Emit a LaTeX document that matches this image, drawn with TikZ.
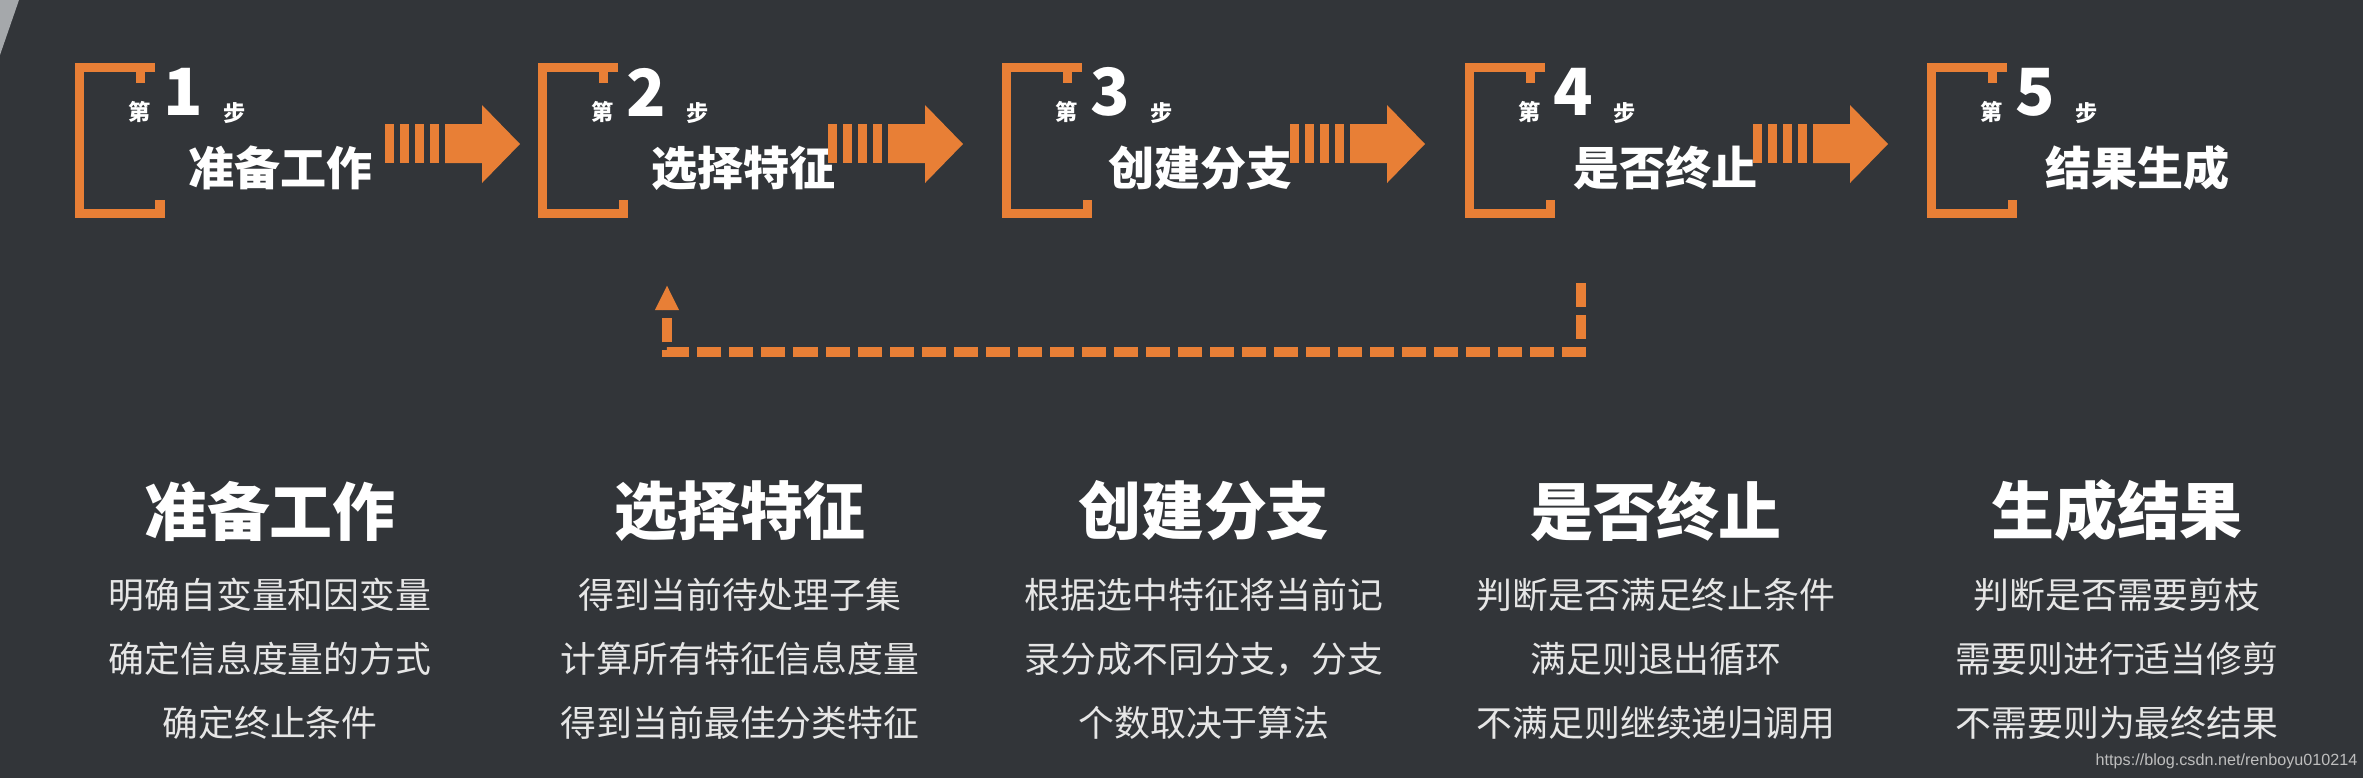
\documentclass[tikz,border=0pt]{standalone}
\usepackage{fontspec}
\setmainfont{Noto Sans CJK SC}
\newfontfamily\urlfont{Liberation Sans}
\usetikzlibrary{arrows.meta}
\definecolor{bgdark}{RGB}{50,53,57}
\definecolor{steporange}{RGB}{232,127,54}
\definecolor{cornergray}{RGB}{165,168,171}
\definecolor{bodywhite}{RGB}{230,230,230}
\definecolor{markgray}{RGB}{190,190,190}

\begin{document}
\begin{tikzpicture}[x=0.01cm, y=-0.01cm,
    bracket/.style ={draw=steporange, line width=0.09cm},
    stepword/.style ={text=white, inner sep=0pt, font=\bfseries\fontsize{6.3}{7}\selectfont},
    stepnum/.style ={text=white, inner sep=0pt, font=\bfseries\fontsize{18.5}{20}\selectfont},
    steptitle/.style ={text=white, inner sep=0pt, anchor=west, font=\bfseries\fontsize{13.1}{15}\selectfont},
    coltitle/.style ={text=white, inner sep=0pt, font=\bfseries\fontsize{17.9}{20}\selectfont},
    colbody/.style ={text=bodywhite, inner sep=0pt, align=center, font=\fontsize{10.2}{18.2}\selectfont},
    loopback/.style ={draw=steporange, line width=0.1cm, dash pattern=on 0.24cm off 0.08cm,
      -{Triangle[width=0.22cm, length=0.25cm]}}]
   \fill[bgdark] (0,0) rectangle (2363,778);
   \fill[cornergray] (0,0) -- (19,0) -- (0,55) -- cycle;
   \foreach \lx/\nm/\ttl/\tx in {75/1/准备工作/188, 538/2/选择特征/651, 1002/3/创建分支/1108,
       1465/4/是否终止/1573, 1927/5/结果生成/2045} {
     \begin{scope}[shift={(\lx,0)}]
       \draw[bracket] (65.5,83) -- (65.5,67.5);
       \draw[bracket] (80,67.5) -- (4.5,67.5) -- (4.5,213) -- (85,213) -- (85,200);
       \node[stepword] (di\nm) at (65,112) {第};
       \node[stepnum] (num\nm) at (108,92) {\nm};
       \node[stepword] (bu\nm) at (160,113) {步};
     \end{scope}
     \node[steptitle] (title\nm) at (\tx,168) {\ttl};
   }
   \foreach \sx in {385, 828, 1290, 1753} {
     \begin{scope}[shift={(\sx,0)}]
       \foreach \bx in {0, 15, 30, 45}
         \fill[steporange] (\bx,124) rectangle ++(9,39);
       \fill[steporange] (60,124) -- (97,124) -- (97,105) -- (135,144) -- (97,183) -- (97,163) -- (60,163) -- cycle;
     \end{scope}
   }
   \coordinate (from4) at (1581,283);
   \coordinate (to2) at (667,285);
   \draw[loopback] (from4) -- ++(0,69) -| (to2);
   \foreach \cx/\nm/\ttl/\bx in {270/1/准备工作/{明确自变量和因变量\\确定信息度量的方式\\确定终止条件},
       740/2/选择特征/{得到当前待处理子集\\计算所有特征信息度量\\得到当前最佳分类特征},
       1204/3/创建分支/{根据选中特征将当前记\\录分成不同分支，分支\\个数取决于算法},
       1656/4/是否终止/{判断是否满足终止条件\\满足则退出循环\\不满足则继续递归调用},
       2117/5/生成结果/{判断是否需要剪枝\\需要则进行适当修剪\\不需要则为最终结果}} {
     \node[coltitle] (head\nm) at (\cx,511) {\ttl};
     \node[colbody] (desc\nm) at (\cx,659) {\bx};
   }
   \node[text=markgray, inner sep=0pt, anchor=west, font=\urlfont\fontsize{4.6}{5}\selectfont] (mark)
     at (2095,761) {https://blog.csdn.net/renboyu010214};
\end{tikzpicture}
\end{document}
